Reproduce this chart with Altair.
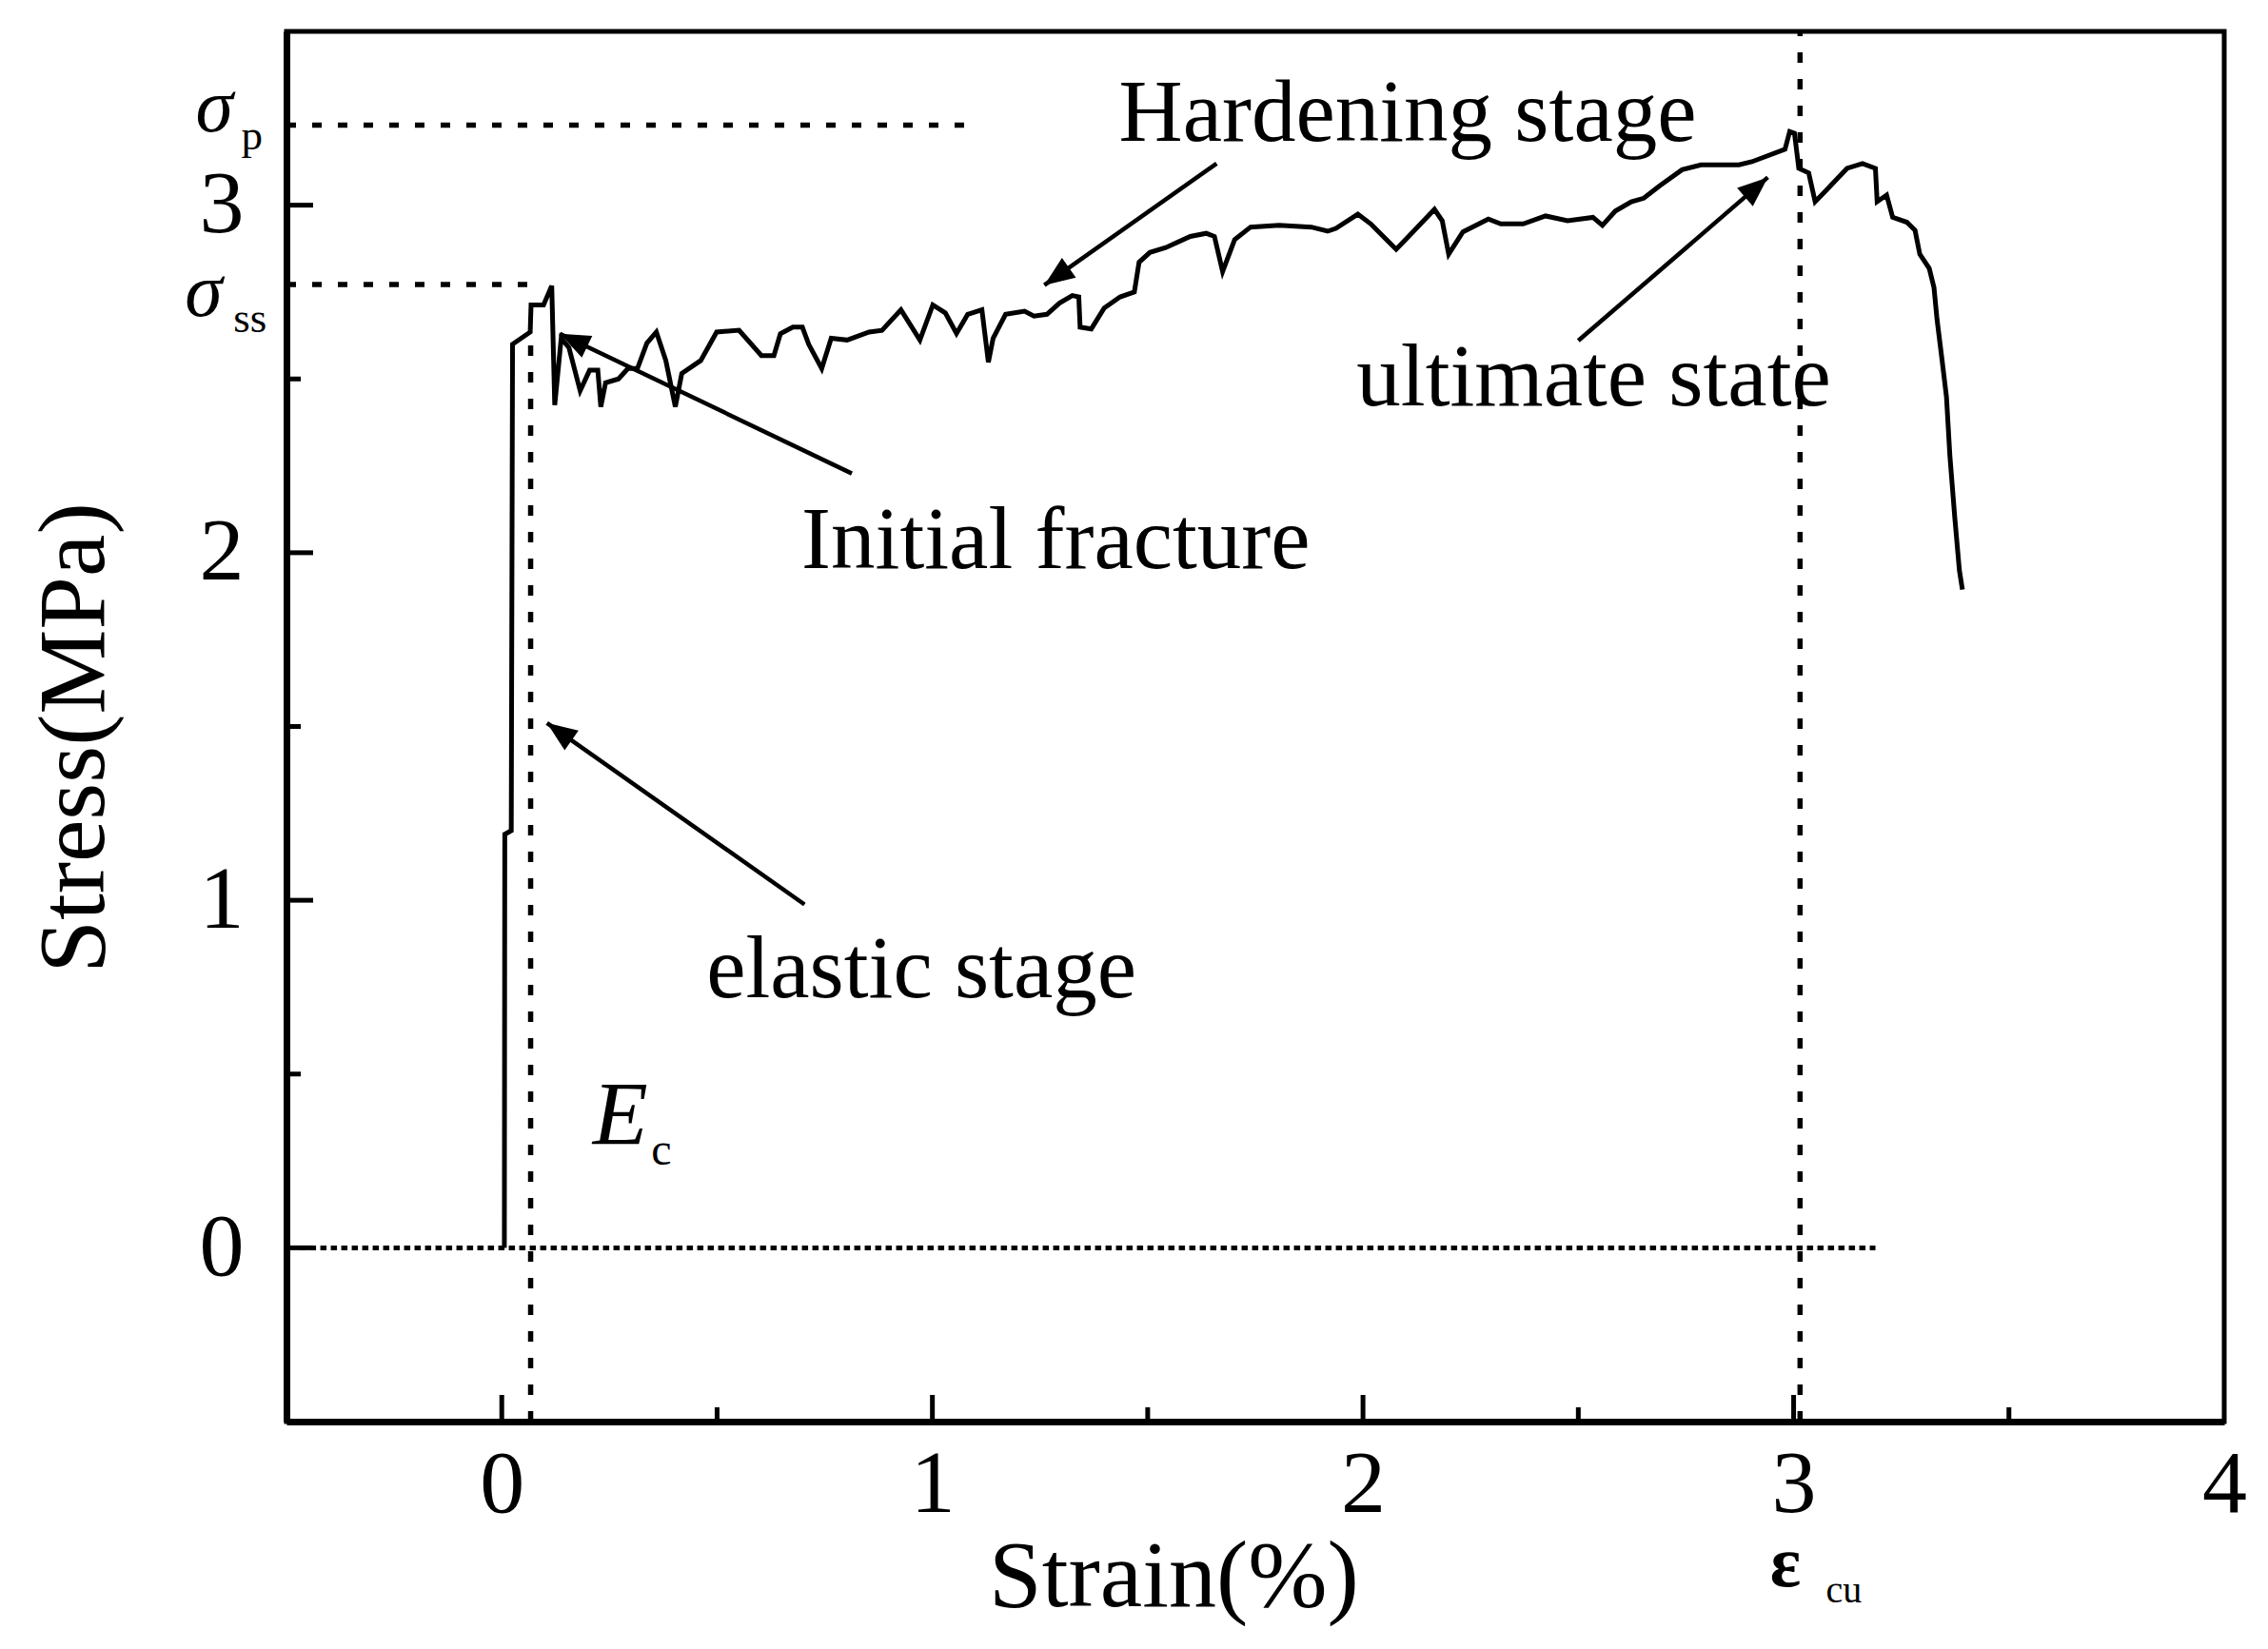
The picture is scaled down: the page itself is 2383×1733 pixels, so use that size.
import math
import altair as alt
import pandas as pd

# ---------------- data ----------------
strain = [0.006, 0.007, 0.022, 0.025, 0.066, 0.068, 0.097, 0.116, 0.123, 0.138,
          0.156, 0.182, 0.204, 0.223, 0.230, 0.241, 0.271, 0.293, 0.315, 0.337,
          0.359, 0.381, 0.403, 0.418, 0.462, 0.499, 0.551, 0.603, 0.632, 0.647,
          0.676, 0.698, 0.713, 0.743, 0.765, 0.802, 0.853, 0.883, 0.927, 0.971,
          1.001, 1.030, 1.056, 1.082, 1.115, 1.130, 1.141, 1.170, 1.214, 1.236,
          1.266, 1.295, 1.325, 1.340, 1.343, 1.369, 1.399, 1.436, 1.469, 1.480,
          1.505, 1.542, 1.599, 1.636, 1.655, 1.674, 1.702, 1.739, 1.805, 1.880,
          1.918, 1.937, 1.988, 2.018, 2.077, 2.099, 2.166, 2.184, 2.199, 2.232,
          2.291, 2.320, 2.372, 2.424, 2.475, 2.534, 2.556, 2.586, 2.623, 2.652,
          2.689, 2.741, 2.785, 2.873, 2.903, 2.980, 2.991, 3.002, 3.012, 3.035,
          3.050, 3.072, 3.124, 3.160, 3.190, 3.194, 3.216, 3.230, 3.263, 3.282,
          3.293, 3.315, 3.326, 3.333, 3.344, 3.355, 3.363, 3.374, 3.385, 3.392]
stress = [0.000, 1.190, 1.200, 2.600, 2.635, 2.713, 2.713, 2.768, 2.425, 2.617,
          2.590, 2.466, 2.525, 2.525, 2.420, 2.489, 2.500, 2.530, 2.530, 2.603,
          2.635, 2.553, 2.420, 2.516, 2.553, 2.635, 2.640, 2.567, 2.567, 2.630,
          2.649, 2.649, 2.599, 2.530, 2.617, 2.612, 2.635, 2.640, 2.699, 2.612,
          2.713, 2.690, 2.631, 2.686, 2.699, 2.548, 2.617, 2.686, 2.695, 2.681,
          2.686, 2.718, 2.740, 2.736, 2.649, 2.644, 2.704, 2.736, 2.750, 2.836,
          2.864, 2.878, 2.910, 2.919, 2.910, 2.809, 2.901, 2.937, 2.942, 2.937,
          2.925, 2.933, 2.974, 2.946, 2.873, 2.901, 2.988, 2.955, 2.859, 2.923,
          2.960, 2.946, 2.946, 2.969, 2.955, 2.965, 2.942, 2.983, 3.010, 3.020,
          3.056, 3.102, 3.116, 3.116, 3.125, 3.161, 3.212, 3.207, 3.106, 3.093,
          3.010, 3.038, 3.106, 3.120, 3.106, 3.010, 3.029, 2.965, 2.951, 2.928,
          2.859, 2.818, 2.763, 2.672, 2.562, 2.448, 2.278, 2.105, 1.949, 1.894]

x_major = [0, 1, 2, 3]
x_minor = [0.5, 1.5, 2.5, 3.5]
x_labels = [0, 1, 2, 3, 4]
y_major = [0, 1, 2, 3]
y_minor = [0.5, 1.5, 2.5]

sigma_p = 3.23
sigma_ss = 2.772
eps_e = 0.067
eps_cu = 3.015

# reference (dotted) lines
h_x = [-0.5, -0.5]
h_x2 = [1.10, 0.067]
h_y = [sigma_p, sigma_ss]
zero_x, zero_x2 = -0.47, 3.19
v_x = [eps_e, eps_cu]
v_y = [-0.5, -0.5]
v_y2 = [2.60, 3.5]

# arrows (tail -> head)
arr_tx = [1.66, 0.813, 0.703, 2.50]
arr_ty = [3.12, 2.228, 0.988, 2.61]
arr_hx = [1.26, 0.135, 0.105, 2.94]
arr_hy = [2.77, 2.63, 1.51, 3.08]

ann_text = ["Hardening stage", "Initial fracture", "elastic stage", "ultimate state"]
ann_x = [1.433, 0.696, 0.475, 1.985]
ann_y = [3.184, 1.957, 0.720, 2.424]

ital_text = ["σ", "σ", "E"]
ital_x = [-0.711, -0.736, 0.211]
ital_y = [3.212, 2.682, 0.296]

sub_text = ["p", "ss", "c", "cu"]
sub_x = [-0.605, -0.623, 0.347, 3.075]
sub_y = [3.160, 2.635, 0.240, -1.020]

eps_text = ["ε"]
eps_x = [2.945]
eps_y = [-0.975]

# ---------------- styling ----------------
W, H = 2036, 1461
FONT = "Liberation Serif"
xs = alt.Scale(domain=[-0.5, 4.0], nice=False, zero=False)
ys = alt.Scale(domain=[-0.5, 3.5], nice=False, zero=False)

AX = alt.Axis(
    title="Strain(%)", values=x_labels, ticks=False, tickSize=0, grid=False,
    labelFont=FONT, labelFontSize=94, labelColor="black", labelPadding=20,
    labelFlush=False, domainColor="black", domainWidth=7,
    titleFont=FONT, titleFontSize=100, titleFontWeight="normal", titleColor="black",
    titleX=932, titleY=193, titleAlign="center", titleBaseline="alphabetic")
AY = alt.Axis(
    title="Stress(MPa)", values=y_major, ticks=False, tickSize=0, grid=False,
    labelFont=FONT, labelFontSize=94, labelColor="black", labelPadding=45,
    domainColor="black", domainWidth=7,
    titleFont=FONT, titleFontSize=100, titleFontWeight="normal", titleColor="black",
    titleAngle=270, titleX=-193, titleY=742, titleAlign="center",
    titleBaseline="alphabetic")


def X(f):
    return alt.X(f, scale=xs, axis=AX)


def Y(f):
    return alt.Y(f, scale=ys, axis=AY)


curve_df = pd.DataFrame({"x": strain, "y": stress, "i": range(len(strain))})
curve = alt.Chart(curve_df).mark_line(color="black", strokeWidth=5).encode(
    x=X("x:Q"), y=Y("y:Q"), order="i:O")

# ticks (inward)
xt_major = alt.Chart(pd.DataFrame({"t": x_major})).mark_rule(color="black", strokeWidth=5).encode(
    x=X("t:Q"), y=alt.value(H), y2=alt.value(H - 28))
xt_minor = alt.Chart(pd.DataFrame({"t": x_minor})).mark_rule(color="black", strokeWidth=5).encode(
    x=X("t:Q"), y=alt.value(H), y2=alt.value(H - 15))
yt_major = alt.Chart(pd.DataFrame({"t": y_major})).mark_rule(color="black", strokeWidth=5).encode(
    y=Y("t:Q"), x=alt.value(0), x2=alt.value(28))
yt_minor = alt.Chart(pd.DataFrame({"t": y_minor})).mark_rule(color="black", strokeWidth=5).encode(
    y=Y("t:Q"), x=alt.value(0), x2=alt.value(15))

# dotted reference lines
hl = alt.Chart(pd.DataFrame({"x": h_x, "x2": h_x2, "y": h_y})).mark_rule(
    color="black", strokeWidth=5.5, strokeDash=[10, 17]).encode(
    x=X("x:Q"), x2="x2:Q", y=Y("y:Q"))
zl = alt.Chart(pd.DataFrame({"x": [zero_x], "x2": [zero_x2], "y": [0.0]})).mark_rule(
    color="black", strokeWidth=5, strokeDash=[6.5, 4.5]).encode(
    x=X("x:Q"), x2="x2:Q", y=Y("y:Q"))
vl = alt.Chart(pd.DataFrame({"x": v_x, "y": v_y, "y2": v_y2})).mark_rule(
    color="black", strokeWidth=5.5, strokeDash=[11, 17]).encode(
    x=X("x:Q"), y=Y("y:Q"), y2="y2:Q")

# arrows
ux, uy = W / 4.5, H / 4.0
angles = []
for tx, ty, hx, hy in zip(arr_tx, arr_ty, arr_hx, arr_hy):
    dx = (hx - tx) * ux
    dys = -(hy - ty) * uy
    angles.append(math.degrees(math.atan2(dx, -dys)) % 360)
arr_df = pd.DataFrame({"tx": arr_tx, "ty": arr_ty, "hx": arr_hx, "hy": arr_hy, "ang": angles})
arr_lines = alt.Chart(arr_df).mark_rule(color="black", strokeWidth=4.5).encode(
    x=X("tx:Q"), y=Y("ty:Q"), x2="hx:Q", y2="hy:Q")
arr_heads = alt.Chart(arr_df).mark_point(
    shape="M0,0L0.8,2L-0.8,2Z", filled=True, color="black", opacity=1, size=1000,
    strokeWidth=0).encode(
    x=X("hx:Q"), y=Y("hy:Q"), angle=alt.Angle("ang:Q", scale=None))

# texts
ann = alt.Chart(pd.DataFrame({"x": ann_x, "y": ann_y, "t": ann_text})).mark_text(
    font=FONT, fontSize=93, align="left", baseline="alphabetic", color="black").encode(
    x=X("x:Q"), y=Y("y:Q"), text="t:N")
ital = alt.Chart(pd.DataFrame({"x": ital_x, "y": ital_y, "t": ital_text,
                               "fs": [80, 80, 95]})).mark_text(
    font=FONT, fontStyle="italic", align="left", baseline="alphabetic", color="black").encode(
    x=X("x:Q"), y=Y("y:Q"), text="t:N", size=alt.Size("fs:Q", scale=None, legend=None))
subs = alt.Chart(pd.DataFrame({"x": sub_x, "y": sub_y, "t": sub_text,
                               "fs": [45, 45, 48, 40]})).mark_text(
    font=FONT, align="left", baseline="alphabetic", color="black").encode(
    x=X("x:Q"), y=Y("y:Q"), text="t:N", size=alt.Size("fs:Q", scale=None, legend=None))
eps = alt.Chart(pd.DataFrame({"x": eps_x, "y": eps_y, "t": eps_text})).mark_text(
    font=FONT, fontSize=76, fontWeight="bold", align="left", baseline="alphabetic",
    color="black").encode(x=X("x:Q"), y=Y("y:Q"), text="t:N")

chart = alt.layer(
    zl, hl, vl, curve, xt_major, xt_minor, yt_major, yt_minor,
    arr_lines, arr_heads, ann, ital, subs, eps
).properties(
    width=W, height=H,
    autosize=alt.AutoSizeParams(type="none"),
    padding={"left": 293, "top": 25, "right": 30, "bottom": 215},
).configure_view(
    stroke="black", strokeWidth=5, fill="white"
)

chart.save("out.html", embed_options={"renderer": "svg", "actions": False})
